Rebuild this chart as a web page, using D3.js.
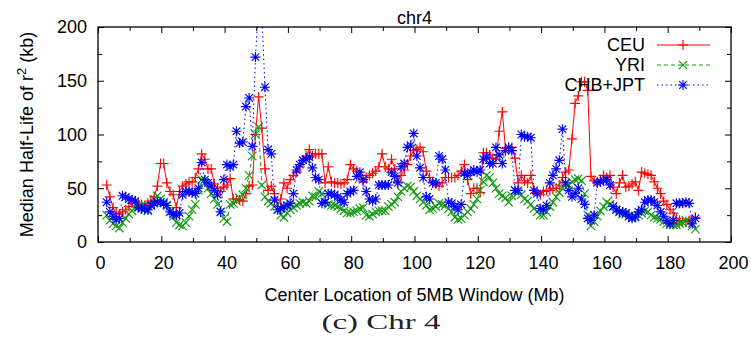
<!DOCTYPE html>
<html lang="en">
<head>
<meta charset="UTF-8">
<title>chr4</title>
<script src="https://d3js.org/d3.v7.min.js"></script>
<style>
  body { margin: 0; background: #fff; }
  svg { display: block; font-family: "Liberation Sans", Arial, sans-serif; }
  .tick line { stroke: #000; }
</style>
</head>
<body>
<div id="chart"></div>
<script>
// centre of the first 5MB window (Mb); windows step by 1 Mb
const firstCenter = 2.75;

const ceu = [
  53,42,32,27,26,28,30,33,36,37,
  36,35,34,36,38,42,52,73,73,55,
  47,44,32,47,52,54,56,56,60,68,
  82,77,68,68,54,50,47,51,53,59,
  40,40,39,38,45,52,53,100,135,106,
  68,48,52,45,33,40,55,50,58,62,
  65,70,76,80,86,80,82,82,82,55,
  70,56,55,55,54,55,58,72,68,66,
  62,56,60,62,64,66,70,82,70,68,
  77,68,56,62,67,72,80,85,86,88,
  84,66,60,56,54,52,55,60,60,60,
  60,62,66,72,58,45,50,50,46,83,
  83,81,78,77,103,121,87,88,88,78,
  55,62,57,55,62,48,46,44,47,48,
  48,50,50,53,60,65,67,96,129,136,
  149,149,141,61,57,56,58,62,60,62,
  51,45,55,62,51,52,54,56,48,65,
  64,63,62,56,50,45,38,35,30,27,
  22,20,19,19,20,21,23
];

const yri = [
  25,20,17,15,13,18,22,26,29,32,
  33,34,30,29,34,40,43,40,37,34,
  28,24,18,16,15,18,24,30,35,48,
  58,55,50,45,40,35,28,22,19,35,
  36,38,41,44,50,62,80,100,107,53,
  42,38,36,33,30,25,23,27,30,32,
  34,36,37,36,38,43,42,47,45,37,
  35,34,34,33,31,29,27,27,28,29,
  31,32,25,24,26,28,29,29,29,33,
  35,37,42,47,50,52,51,47,43,40,
  37,34,30,31,33,36,35,34,31,28,
  23,21,22,25,28,31,35,40,48,56,
  62,60,55,50,45,43,41,37,43,48,
  46,44,40,38,35,31,28,25,25,28,
  33,37,42,46,50,54,53,56,58,59,
  57,45,25,15,19,24,29,33,37,35,
  33,30,28,26,26,24,23,24,25,27,
  29,28,25,23,22,21,19,17,16,16,
  16,17,18,20,18,15,12
];

const chbjpt = [
  37,28,24,21,22,43,42,40,39,38,
  32,31,31,30,34,36,37,37,36,34,
  28,26,25,27,44,47,47,46,45,50,
  74,58,55,52,48,44,28,58,72,70,
  72,103,92,93,126,134,89,172,222,212,
  144,86,82,39,30,31,33,34,36,45,
  67,72,76,77,79,69,60,58,36,37,
  45,45,44,42,39,37,45,47,48,61,
  65,58,47,40,38,40,53,53,53,53,
  65,61,55,70,73,88,90,101,80,69,
  60,42,40,55,55,80,77,67,37,36,
  33,30,35,64,62,65,67,65,67,77,
  79,73,73,88,81,73,85,88,85,48,
  48,100,98,98,97,48,45,31,30,34,
  55,62,68,76,105,55,48,42,45,50,
  40,35,22,20,25,55,56,57,58,53,
  33,30,28,28,27,24,22,23,28,30,
  37,39,39,37,34,28,24,20,17,20,
  36,36,36,37,36,17,22
];

const xTicks = [0, 20, 40, 60, 80, 100, 120, 140, 160, 180, 200];
const xMinor = [10, 30, 50, 70, 90, 110, 130, 150, 170, 190];
const yTicks = [0, 50, 100, 150, 200];
const yMinor = [25, 75, 125, 175];

const series = [
  { name: "CEU", values: ceu, color: "#ff0000", dash: null, marker: "plus" },
  { name: "YRI", values: yri, color: "#139a13", dash: "4,3", marker: "cross" },
  { name: "CHB+JPT", values: chbjpt, color: "#0000ff", dash: "1.5,3", marker: "star" }
];

const width = 751, height = 338;
const margin = { top: 27, right: 20, bottom: 96, left: 98 };
const plotW = width - margin.left - margin.right;
const plotH = height - margin.top - margin.bottom;

const x = d3.scaleLinear().domain([0, 200]).range([margin.left, margin.left + plotW]);
const y = d3.scaleLinear().domain([0, 200]).range([margin.top + plotH, margin.top]);

const markers = {
  plus: "M-5,0H5M0,-5V5",
  cross: "M-4.2,-4.2L4.2,4.2M-4.2,4.2L4.2,-4.2",
  star: "M-5,0H5M0,-5V5M-3.8,-3.8L3.8,3.8M-3.8,3.8L3.8,-3.8"
};

const svg = d3.select("#chart").append("svg")
  .attr("width", width)
  .attr("height", height);

svg.append("clipPath").attr("id", "plot-clip")
  .append("rect")
  .attr("x", margin.left).attr("y", margin.top)
  .attr("width", plotW).attr("height", plotH);

// axes: ticks point inwards on all four sides, like gnuplot
function styleAxis(g) {
  g.select(".domain").remove();
  g.attr("font-family", null).attr("font-size", 18);
  g.selectAll("text").attr("fill", "#000");
}

svg.append("g")
  .attr("transform", `translate(0,${margin.top + plotH})`)
  .call(d3.axisBottom(x).tickValues(xTicks).tickSize(-6).tickPadding(14).tickFormat(d3.format("d")))
  .call(styleAxis)
  .selectAll("text").attr("dx", 2);
svg.append("g")
  .attr("transform", `translate(0,${margin.top + plotH})`)
  .call(d3.axisBottom(x).tickValues(xMinor).tickSize(-4).tickFormat(""))
  .call(styleAxis);
svg.append("g")
  .attr("transform", `translate(0,${margin.top})`)
  .call(d3.axisTop(x).tickValues(xTicks).tickSize(-6).tickFormat(""))
  .call(styleAxis);
svg.append("g")
  .attr("transform", `translate(0,${margin.top})`)
  .call(d3.axisTop(x).tickValues(xMinor).tickSize(-4).tickFormat(""))
  .call(styleAxis);

svg.append("g")
  .attr("transform", `translate(${margin.left},0)`)
  .call(d3.axisLeft(y).tickValues(yTicks).tickSize(-6).tickPadding(11).tickFormat(d3.format("d")))
  .call(styleAxis);
svg.append("g")
  .attr("transform", `translate(${margin.left},0)`)
  .call(d3.axisLeft(y).tickValues(yMinor).tickSize(-4).tickFormat(""))
  .call(styleAxis);
svg.append("g")
  .attr("transform", `translate(${margin.left + plotW},0)`)
  .call(d3.axisRight(y).tickValues(yTicks).tickSize(-6).tickFormat(""))
  .call(styleAxis);
svg.append("g")
  .attr("transform", `translate(${margin.left + plotW},0)`)
  .call(d3.axisRight(y).tickValues(yMinor).tickSize(-4).tickFormat(""))
  .call(styleAxis);

// data
const plot = svg.append("g").attr("clip-path", "url(#plot-clip)");

series.forEach(s => {
  const line = d3.line()
    .x((d, i) => x(firstCenter + i))
    .y(d => y(d));

  plot.append("path")
    .datum(s.values)
    .attr("d", line)
    .attr("fill", "none")
    .attr("stroke", s.color)
    .attr("stroke-width", 1)
    .attr("stroke-dasharray", s.dash);

  plot.selectAll(null)
    .data(s.values)
    .enter().append("path")
    .attr("transform", (d, i) => `translate(${x(firstCenter + i)},${y(d)})`)
    .attr("d", markers[s.marker])
    .attr("fill", "none")
    .attr("stroke", s.color)
    .attr("stroke-width", 1.15);
});

// frame
svg.append("rect")
  .attr("x", margin.left).attr("y", margin.top)
  .attr("width", plotW).attr("height", plotH)
  .attr("fill", "none")
  .attr("stroke", "#000")
  .attr("stroke-width", 1.3);

// legend
const legend = svg.append("g");
series.forEach((s, i) => {
  const ly = 45 + i * 20;
  legend.append("text")
    .attr("x", 645).attr("y", ly).attr("dy", "0.35em")
    .attr("text-anchor", "end")
    .attr("font-size", 18)
    .text(s.name);
  legend.append("line")
    .attr("x1", 657).attr("x2", 710)
    .attr("y1", ly).attr("y2", ly)
    .attr("stroke", s.color)
    .attr("stroke-dasharray", s.dash);
  legend.append("path")
    .attr("transform", `translate(683,${ly})`)
    .attr("d", markers[s.marker])
    .attr("fill", "none")
    .attr("stroke", s.color)
    .attr("stroke-width", 1.15);
});

// titles
svg.append("text")
  .attr("x", margin.left + plotW / 2).attr("y", 24)
  .attr("text-anchor", "middle")
  .attr("font-size", 18)
  .text("chr4");

svg.append("text")
  .attr("x", margin.left + plotW / 2).attr("y", 301)
  .attr("text-anchor", "middle")
  .attr("font-size", 18)
  .text("Center Location of 5MB Window (Mb)");

const yLabel = svg.append("text")
  .attr("transform", `translate(33,${margin.top + plotH / 2}) rotate(-90)`)
  .attr("text-anchor", "middle")
  .attr("font-size", 18);
yLabel.append("tspan").text("Median Half-Life of r");
yLabel.append("tspan").attr("dy", -7).attr("font-size", 13).text("2");
yLabel.append("tspan").attr("dy", 7).text(" (kb)");

svg.append("text")
  .attr("x", 381).attr("y", 329)
  .attr("text-anchor", "middle")
  .attr("font-family", "'Liberation Serif', 'DejaVu Serif', serif")
  .attr("font-size", 22)
  .attr("fill", "#222")
  .attr("textLength", 119)
  .attr("lengthAdjust", "spacingAndGlyphs")
  .text("(c) Chr 4");
</script>
</body>
</html>
